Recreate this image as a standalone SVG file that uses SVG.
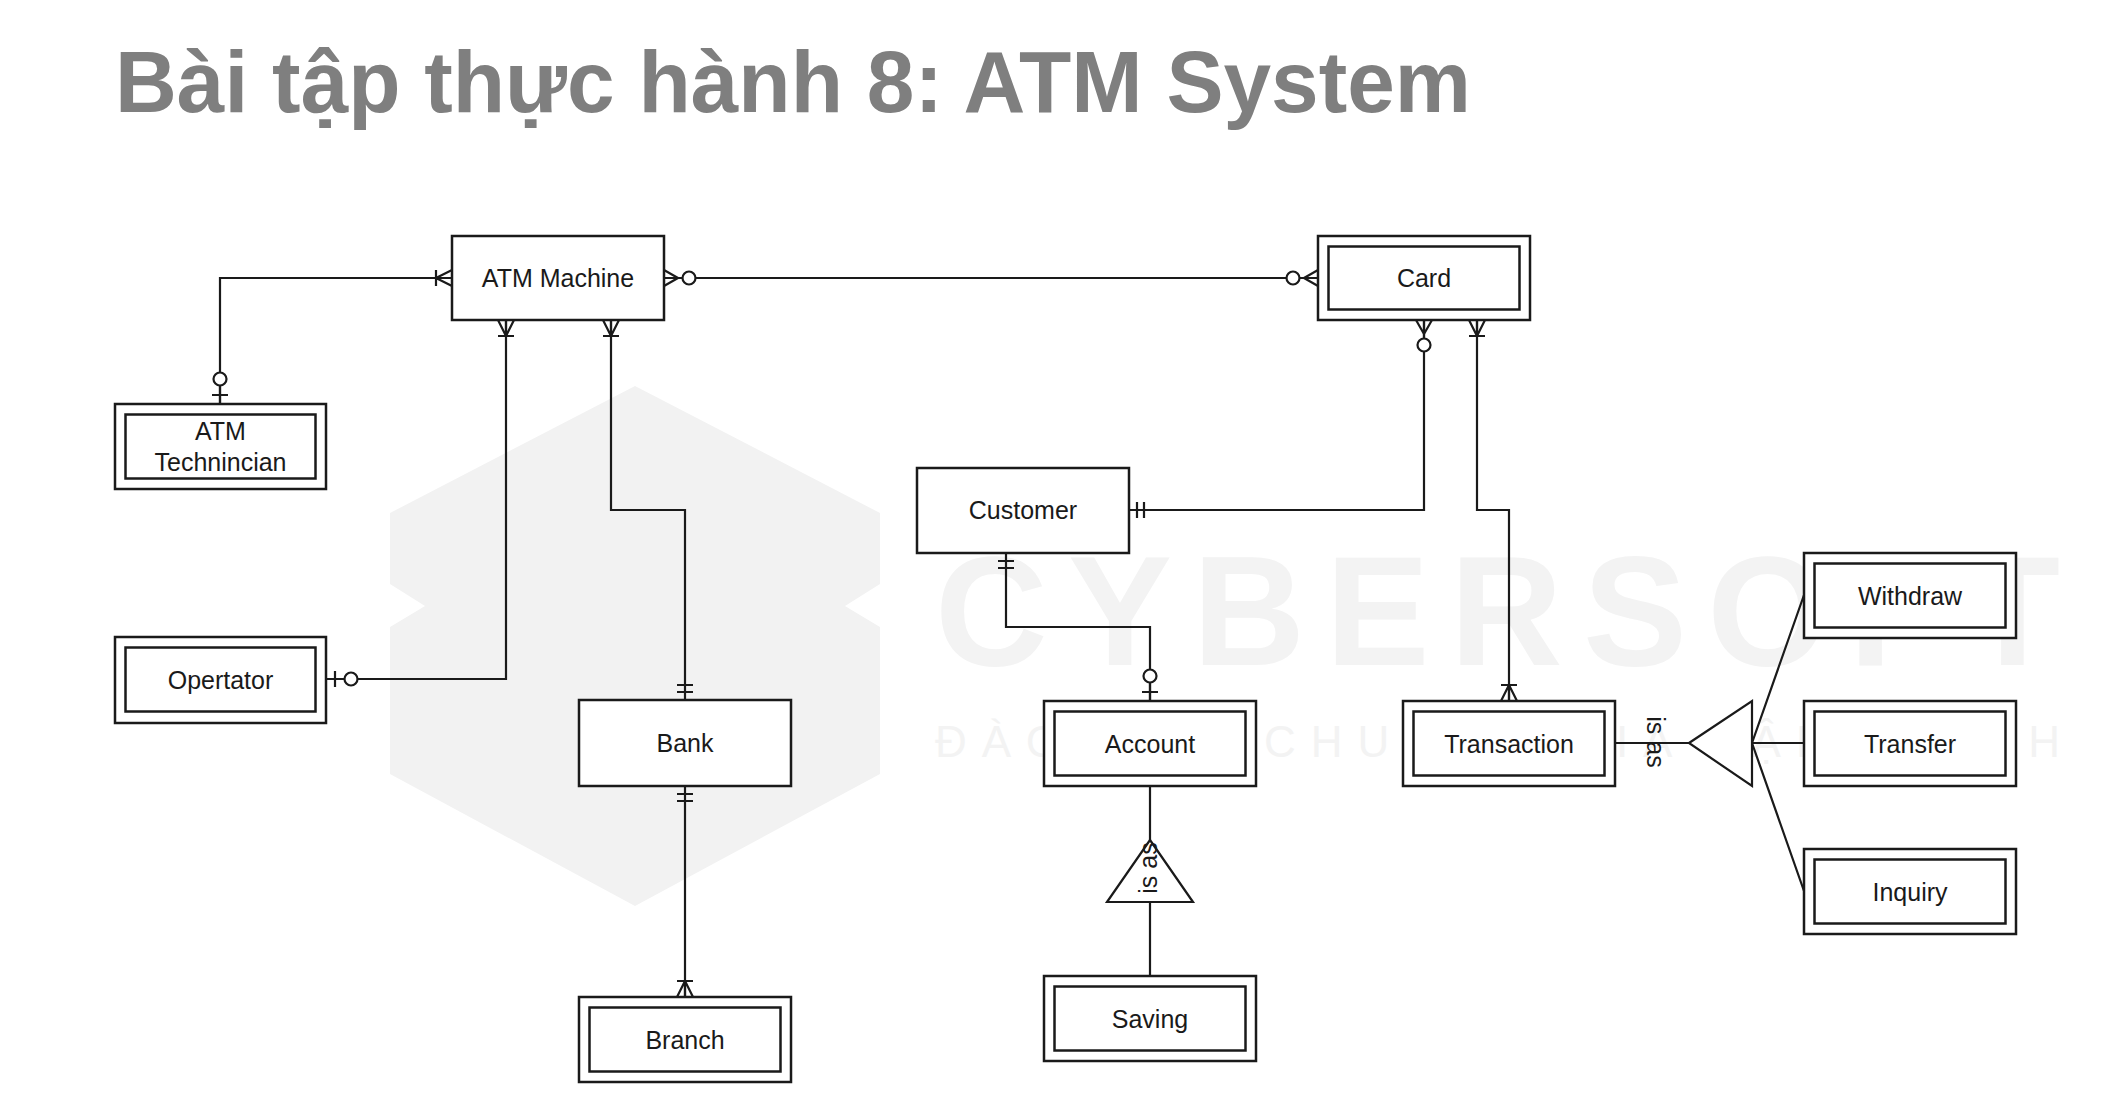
<svg xmlns="http://www.w3.org/2000/svg" xmlns:xlink="http://www.w3.org/1999/xlink" width="2102" height="1118" viewBox="0 0 2102 1118">
<style>
.ent{fill:#fff;stroke:#1a1a1a;stroke-width:2.5}
.lbl{font-family:"Liberation Sans",Arial,sans-serif;font-size:25px;fill:#1a1a1a;text-anchor:middle}
.ln{fill:none;stroke:#1a1a1a;stroke-width:2.2}
.mk{fill:none;stroke:#1a1a1a;stroke-width:2.2}
.mc{fill:#fff;stroke:#1a1a1a;stroke-width:2.2}
.tri{fill:#fff;stroke:#1a1a1a;stroke-width:2.2}
.wm{fill:#f2f2f2}
</style>
<defs>
<g id="oneMany"><path class="mk" d="M0,-8 L16,0 M0,8 L16,0 M0,0 L16,0 M16,-8 L16,8"/></g>
<g id="zeroMany"><path class="mk" d="M0,-8 L14,0 M0,8 L14,0 M0,0 L18,0"/><circle class="mc" cx="25" cy="0" r="6.5"/></g>
<g id="zeroOne"><path class="mk" d="M9,-8 L9,8 M0,0 L18,0"/><circle class="mc" cx="25" cy="0" r="6.5"/></g>
<g id="oneOne"><path class="mk" d="M8,-8 L8,8 M15,-8 L15,8"/></g>
</defs>
<rect width="2102" height="1118" fill="#fff"/>
<g id="watermark">
<path class="wm" d="M635,386 L880,513 L880,584 L845,606 L880,627 L880,774 L635,906 L390,774 L390,627 L425,606 L390,584 L390,513 Z"/>
<text x="935" y="665" font-family="Liberation Sans, Arial, sans-serif" font-weight="bold" font-size="156" fill="#f3f3f3" textLength="1125" lengthAdjust="spacing">CYBERSOFT</text>
<text x="935" y="757" font-family="Liberation Sans, Arial, sans-serif" font-size="44" fill="#f3f3f3" textLength="1125" lengthAdjust="spacing">ĐÀO TẠO CHUYÊN GIA LẬP TRÌNH</text>
</g>
<text id="title" x="115" y="112" font-family="Liberation Sans, Arial, sans-serif" font-weight="bold" font-size="88" fill="#7f7f7f" textLength="1356" lengthAdjust="spacingAndGlyphs">Bài tập thực hành 8: ATM System</text>
<g id="connectors">
<path class="ln" d="M220,404 L220,278 L452,278"/>
<path class="ln" d="M664,278 L1318,278"/>
<path class="ln" d="M506,320 L506,679 L326,679"/>
<path class="ln" d="M611,320 L611,510 L685,510 L685,700"/>
<path class="ln" d="M685,786 L685,997"/>
<path class="ln" d="M1424,320 L1424,510 L1129,510"/>
<path class="ln" d="M1477,320 L1477,510 L1509,510 L1509,701"/>
<path class="ln" d="M1006,553 L1006,627 L1150,627 L1150,701"/>
<path class="ln" d="M1150,786 L1150,840 M1150,902 L1150,976"/>
<path class="ln" d="M1615,743 L1689,743 M1752,743 L1804,595 M1752,743 L1804,743 M1752,743 L1804,891"/>
<use href="#zeroOne" transform="translate(220,404) rotate(270)"/>
<use href="#oneMany" transform="translate(452,278) rotate(180)"/>
<use href="#zeroMany" transform="translate(664,278)"/>
<use href="#zeroMany" transform="translate(1318,278) rotate(180)"/>
<use href="#oneMany" transform="translate(506,320) rotate(90)"/>
<use href="#zeroOne" transform="translate(326,679)"/>
<use href="#oneMany" transform="translate(611,320) rotate(90)"/>
<use href="#oneOne" transform="translate(685,700) rotate(270)"/>
<use href="#oneOne" transform="translate(685,786) rotate(90)"/>
<use href="#oneMany" transform="translate(685,997) rotate(270)"/>
<use href="#zeroMany" transform="translate(1424,320) rotate(90)"/>
<use href="#oneOne" transform="translate(1129,510)"/>
<use href="#oneMany" transform="translate(1477,320) rotate(90)"/>
<use href="#oneMany" transform="translate(1509,701) rotate(270)"/>
<use href="#oneOne" transform="translate(1006,553) rotate(90)"/>
<use href="#zeroOne" transform="translate(1150,701) rotate(270)"/>
</g>
<g id="isa-account">
<path class="tri" d="M1150,840 L1193,902 L1107,902 Z"/>
<text class="lbl" transform="translate(1157,868) rotate(-90)">is as</text>
</g>
<g id="isa-transaction">
<path class="tri" d="M1689,743 L1752,701 L1752,786 Z"/>
<text class="lbl" transform="translate(1647,742) rotate(90)">is as</text>
</g>
<g id="atm-machine"><rect class="ent" x="452" y="236" width="212" height="84"/><text class="lbl" x="558" y="287">ATM Machine</text></g>
<g id="atm-technician"><rect class="ent" x="115" y="404" width="211" height="85"/><rect class="ent" x="125.5" y="414.5" width="190" height="64"/><text class="lbl" x="220.5" y="440">ATM</text><text class="lbl" x="220.5" y="471">Technincian</text></g>
<g id="operator"><rect class="ent" x="115" y="637" width="211" height="86"/><rect class="ent" x="125.5" y="647.5" width="190" height="64"/><text class="lbl" x="220.5" y="689">Opertator</text></g>
<g id="bank"><rect class="ent" x="579" y="700" width="212" height="86"/><text class="lbl" x="685" y="752">Bank</text></g>
<g id="branch"><rect class="ent" x="579" y="997" width="212" height="85"/><rect class="ent" x="589.5" y="1007.5" width="191" height="64"/><text class="lbl" x="685" y="1048.5">Branch</text></g>
<g id="customer"><rect class="ent" x="917" y="468" width="212" height="85"/><text class="lbl" x="1023" y="519">Customer</text></g>
<g id="account"><rect class="ent" x="1044" y="701" width="212" height="85"/><rect class="ent" x="1054.5" y="711.5" width="191" height="64"/><text class="lbl" x="1150" y="752.5">Account</text></g>
<g id="saving"><rect class="ent" x="1044" y="976" width="212" height="85"/><rect class="ent" x="1054.5" y="986.5" width="191" height="64"/><text class="lbl" x="1150" y="1027.5">Saving</text></g>
<g id="card"><rect class="ent" x="1318" y="236" width="212" height="84"/><rect class="ent" x="1328.5" y="246.5" width="191" height="63"/><text class="lbl" x="1424" y="287">Card</text></g>
<g id="transaction"><rect class="ent" x="1403" y="701" width="212" height="85"/><rect class="ent" x="1413.5" y="711.5" width="191" height="64"/><text class="lbl" x="1509" y="752.5">Transaction</text></g>
<g id="withdraw"><rect class="ent" x="1804" y="553" width="212" height="85"/><rect class="ent" x="1814.5" y="563.5" width="191" height="64"/><text class="lbl" x="1910" y="604.5">Withdraw</text></g>
<g id="transfer"><rect class="ent" x="1804" y="701" width="212" height="85"/><rect class="ent" x="1814.5" y="711.5" width="191" height="64"/><text class="lbl" x="1910" y="752.5">Transfer</text></g>
<g id="inquiry"><rect class="ent" x="1804" y="849" width="212" height="85"/><rect class="ent" x="1814.5" y="859.5" width="191" height="64"/><text class="lbl" x="1910" y="900.5">Inquiry</text></g>
</svg>
